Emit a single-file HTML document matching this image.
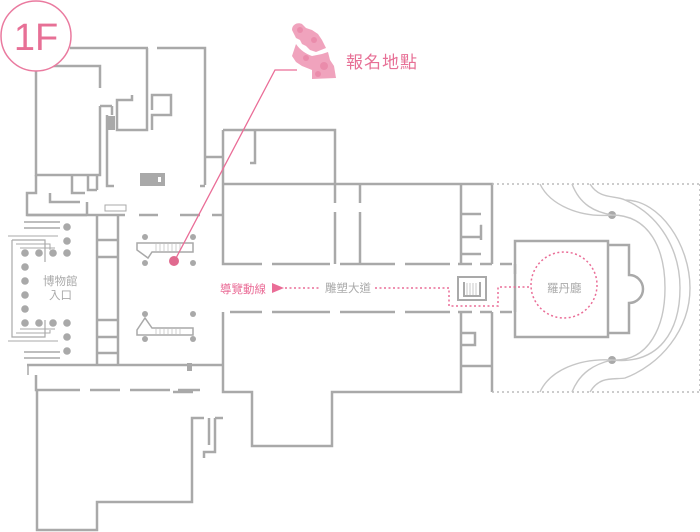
<!DOCTYPE html>
<html><head><meta charset="utf-8"><style>
html,body{margin:0;padding:0;background:#fff;width:700px;height:532px;overflow:hidden}
svg{display:block}
text{font-family:"Liberation Sans","Noto Sans CJK TC",sans-serif}
</style></head><body>
<svg width="700" height="532" viewBox="0 0 700 532" xmlns="http://www.w3.org/2000/svg">
<g fill="none" stroke="#a9a9a9" stroke-width="2.5">
<path d="M70 48H148 M157 48H205V185"/>
<path d="M36 66H100V88 M100 106V175H36V66"/>
<path d="M147 48V130H117V100H132V95 M152 130V115H171V95H152V110"/>
<path d="M107 115V186H114 M112 106H100 M112 106V115"/>
<path d="M205 157H223 M200 186H205"/>
<path d="M36 175V193H27V215H87 M50 193V202H64 M64 202H80 M87 202V215 M72 175V193H85 M88 175V190H97 M97 175V190"/>
<path d="M27 215H125 M139 215H158 M180 215H200 M212 215H223"/>
<path d="M223 130H335V184 M223 130V184 M255 130V163H250"/>
<path d="M223 184H492V264 M223 184V264H262 M272 264H330 M340 264H395 M405 264H450 M458 264H472 M480 264H492 M500 264H512"/>
<path d="M335 184V203 M335 212V264 M360 184V203 M360 212V264 M461 184V264 M461 214H481 M461 237H481V226H480 M461 254H481 M481 225V240"/>
<path d="M223 312V392H252V446H332V392H461V312 M230 312H262 M272 312H330 M340 312H395 M405 312H450 M458 312H472 M480 312H492 M500 312H512"/>
<path d="M461 366H492V312 M492 366V392 M461 333H475V345H461"/>
<rect x="515" y="241" width="93" height="96"/>
<path d="M608 245H629V275A14 14 0 0 1 629 303V333H608"/>
<path d="M515 264V274 M515 300V312"/>
<path d="M97 215V365 M118 215V365 M97 240H118 M97 257H118 M97 320H118 M97 337H118 M97 353H118"/>
<path d="M12 240H45V262 M12 240V337H45V320" stroke-width="1.2"/>
<path d="M16 244H50V250 M16 333H50V330 M20 248H55 M20 329H55 M8 236H58 M8 341H58" stroke-width="1"/>
<path d="M24 222H60 M24 228H60 M24 352H60 M24 358H60 M28 365V375" stroke-width="1.5"/>
<path d="M27 365H223 M36 375V390H37V530H97V502H192V418H204 M37 390H80 M90 390H120 M130 390H170 M178 390H200"/>
<path d="M173 392H193 M215 418H223 M215 418V452H204V458 M209 418V445"/>
</g>
<g fill="none" stroke="#a9a9a9" stroke-width="2">
<rect x="458" y="277" width="28" height="23"/>
<path d="M464 282V296H480V282"/>
</g>
<g stroke="#bbb" stroke-width="0.8"><path d="M467 283V295 M470 283V295 M473 283V295 M476 283V295"/></g>
<g fill="#a9a9a9">
<rect x="107" y="116" width="8" height="14"/>
<rect x="140" y="173" width="25" height="13"/><rect x="158" y="177" width="3" height="5" fill="#fff"/>
<rect x="187" y="363" width="5" height="8"/>
<circle cx="67" cy="227" r="3.8"/><circle cx="67" cy="241" r="3.8"/>
<circle cx="25" cy="253" r="3.8"/><circle cx="39" cy="253" r="3.8"/><circle cx="53" cy="253" r="3.8"/><circle cx="67" cy="253" r="3.8"/>
<circle cx="25" cy="267" r="3.8"/><circle cx="25" cy="281" r="3.8"/><circle cx="25" cy="295" r="3.8"/><circle cx="25" cy="309" r="3.8"/>
<circle cx="25" cy="323" r="3.8"/><circle cx="39" cy="323" r="3.8"/><circle cx="53" cy="323" r="3.8"/><circle cx="67" cy="323" r="3.8"/>
<circle cx="67" cy="337" r="3.8"/><circle cx="67" cy="351" r="3.8"/>
<circle cx="145" cy="237" r="3"/><circle cx="193" cy="237" r="3"/><circle cx="145" cy="263" r="3"/><circle cx="193" cy="263" r="3"/>
<circle cx="145" cy="314" r="3"/><circle cx="193" cy="314" r="3"/><circle cx="145" cy="339" r="3"/><circle cx="193" cy="339" r="3"/>
<circle cx="612" cy="215" r="4"/><circle cx="612" cy="360" r="4"/>
</g>
<g fill="none" stroke="#a9a9a9" stroke-width="1.5">
<path d="M137 243H193V252H152L148 258 137 250Z"/>
<path d="M137 335H193V328H152L145 318 137 330Z"/>
<path d="M105 205H126V211H105Z" stroke-width="1"/>
</g>
<g stroke="#bbb" stroke-width="0.7"><path d="M156 244V251 M160 244V251 M164 244V251 M168 244V251 M172 244V251 M176 244V251 M180 244V251 M156 329V335 M160 329V335 M164 329V335 M168 329V335 M172 329V335 M176 329V335 M180 329V335"/></g>
<g fill="none" stroke="#bbb" stroke-width="1.6" stroke-dasharray="2 3">
<path d="M492 184H700 M492 392H700 M700 184V392"/>
</g>
<g fill="none" stroke="#c6c6c6" stroke-width="1.4">
<path d="M540 184C550 205 580 218 612 215 M572 184C580 205 595 212 612 215 M590 184C600 200 615 195 625 200C660 215 680 250 680 288C680 330 660 365 612 360 M612 215C650 215 665 250 665 288C665 325 650 362 612 360 M540 392C550 370 580 358 612 360 M572 392C580 372 595 364 612 360 M590 392C600 375 615 380 625 378C660 365 690 330 690 288 M690 288C690 245 660 200 625 200"/>
</g>
<g fill="none" stroke="#ea6d97" stroke-width="1.5" stroke-dasharray="2 2.5">
<path d="M285 288H320 M375 288H449V306H498V287H531"/>
<circle cx="564" cy="285" r="33"/>
</g>
<path d="M272 283L284 288 272 293Z" fill="#ea6d97"/>
<path d="M297 70H275L175 260" fill="none" stroke="#ea6d97" stroke-width="1.3"/>
<circle cx="174" cy="261" r="5" fill="#e06a8f"/>
<circle cx="36" cy="36" r="35" fill="#fff" stroke="#ea7a9f" stroke-width="1.5"/>
<text x="36" y="50" font-size="38" fill="#e77096" text-anchor="middle" font-family="Liberation Serif, serif">1F</text>
<!-- thinker -->
<path d="M292 30C292 24 298 22 302 24L306 28 312 30 318 34 322 40 326 48 316 52 310 50 306 46 302 44 300 40 296 38Z M296 44C300 50 306 54 312 56L322 54 328 52 330 60 334 66 336 78 312 79 312 70 302 66 296 62 292 56 294 50Z" fill="#f0a3bd"/>
<g fill="#e67a9e" opacity=".55"><circle cx="300" cy="30" r="3"/><circle cx="314" cy="40" r="3"/><circle cx="306" cy="58" r="3"/><circle cx="324" cy="66" r="4"/><circle cx="318" cy="74" r="3"/></g>
<text x="346" y="68" font-size="17" fill="#e77096" letter-spacing="1">報名地點</text>
<text x="220" y="293" font-size="11.5" fill="#ea6d97">導覽動線</text>
<text x="325" y="292" font-size="11.5" fill="#aaa">雕塑大道</text>
<text x="547" y="292" font-size="11.5" fill="#aaa">羅丹廳</text>
<text x="43" y="285" font-size="11.5" fill="#aaa">博物館</text>
<text x="49" y="299" font-size="11.5" fill="#aaa">入口</text>
</svg>
</body></html>
